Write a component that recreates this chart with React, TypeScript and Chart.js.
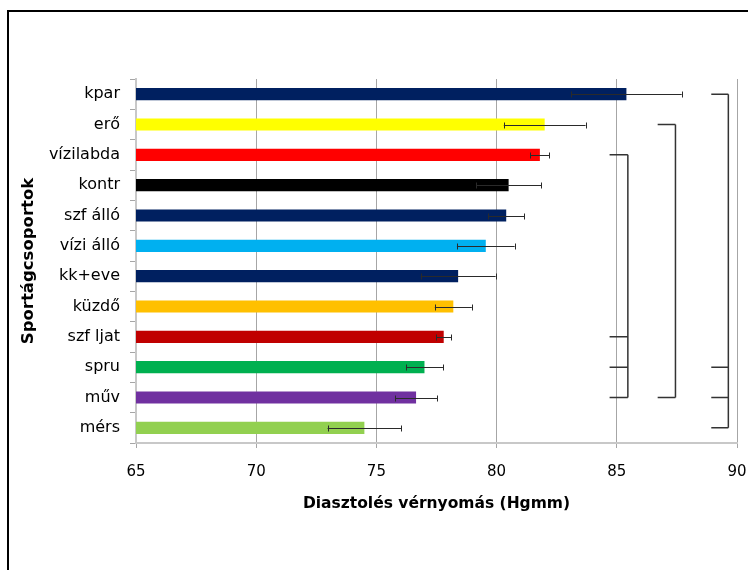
import React, { useEffect, useRef } from "react";
import { Chart, registerables } from "chart.js";

Chart.register(...registerables);

const categories = ["kpar", "erő", "vízilabda", "kontr", "szf álló", "vízi álló", "kk+eve", "küzdő", "szf ljat", "spru", "műv", "mérs"];
const values = [85.4, 82.0, 81.8, 80.5, 80.4, 79.55, 78.4, 78.2, 77.8, 77.0, 76.65, 74.5];
const errors = [2.3, 1.7, 0.4, 1.35, 0.76, 1.2, 1.56, 0.77, 0.32, 0.77, 0.87, 1.53];
const barColors = ["#002060", "#FFFF00", "#FF0000", "#000000", "#002060", "#00B0F0", "#002060", "#FFC000", "#C00000", "#00B050", "#7030A0", "#92D050"];
const xTicks = [65, 70, 75, 80, 85, 90];

// significance brackets: member category indices, stub start value, vertical line value
const bracketMembers = [[2, 8, 9, 10], [1, 10], [0, 9, 10, 11]];
const bracketStubFrom = [84.7, 86.7, 88.93];
const bracketLineAt = [85.46, 87.44, 89.64];

const FONT = '"DejaVu Sans", Arial, sans-serif';

const overlayPlugin = {
  id: "overlay",
  afterDatasetsDraw(chart: any) {
    const ctx = chart.ctx;
    const xs = chart.scales.x;
    const ys = chart.scales.y;
    ctx.save();
    // error bars
    ctx.strokeStyle = "#2a2a2a";
    ctx.lineWidth = 1;
    values.forEach((v, i) => {
      const y = Math.round(ys.getPixelForValue(i)) + 0.5;
      const x1 = xs.getPixelForValue(v - errors[i]);
      const x2 = xs.getPixelForValue(v + errors[i]);
      ctx.beginPath();
      ctx.moveTo(x1, y);
      ctx.lineTo(x2, y);
      ctx.moveTo(Math.round(x1) + 0.5, y - 3);
      ctx.lineTo(Math.round(x1) + 0.5, y + 3);
      ctx.moveTo(Math.round(x2) + 0.5, y - 3);
      ctx.lineTo(Math.round(x2) + 0.5, y + 3);
      ctx.stroke();
    });
    // brackets
    ctx.strokeStyle = "#333333";
    ctx.lineWidth = 1.5;
    bracketMembers.forEach((members, b) => {
      const xa = xs.getPixelForValue(bracketStubFrom[b]);
      const xb = xs.getPixelForValue(bracketLineAt[b]);
      const yTop = ys.getPixelForValue(members[0]);
      const yBot = ys.getPixelForValue(members[members.length - 1]);
      ctx.beginPath();
      ctx.moveTo(xb, yTop);
      ctx.lineTo(xb, yBot);
      members.forEach((m) => {
        const y = ys.getPixelForValue(m);
        ctx.moveTo(xa, y);
        ctx.lineTo(xb, y);
      });
      ctx.stroke();
    });
    ctx.restore();
  },
  afterDraw(chart: any) {
    const ctx = chart.ctx;
    ctx.save();
    ctx.strokeStyle = "#000000";
    ctx.lineWidth = 2;
    ctx.beginPath();
    ctx.moveTo(8, 580);
    ctx.lineTo(8, 11);
    ctx.lineTo(760, 11);
    ctx.stroke();
    ctx.restore();
  },
};

export default function App() {
  const ref = useRef<HTMLCanvasElement>(null);
  useEffect(() => {
    document.body.style.margin = "0";
    const chart = new Chart(ref.current as HTMLCanvasElement, {
      type: "bar",
      data: {
        labels: categories,
        datasets: [
          {
            data: values,
            backgroundColor: barColors,
            borderWidth: 0,
            barPercentage: 0.4,
            categoryPercentage: 1,
          },
        ],
      },
      options: {
        indexAxis: "y",
        animation: false,
        responsive: false,
        layout: { padding: { top: 79, right: 11, left: 8, bottom: 40 } },
        plugins: { legend: { display: false }, tooltip: { enabled: false } },
        scales: {
          x: {
            min: 65,
            max: 90,
            afterBuildTicks: (s: any) => {
              s.ticks = xTicks.map((v) => ({ value: v }));
            },
            afterFit: (s: any) => {
              s.height = 87;
              s.paddingLeft = 0;
              s.paddingRight = 0;
            },
            grid: { color: "#a6a6a6", lineWidth: 1, tickLength: 5, drawTicks: true },
            border: { color: "#c8c8c8", width: 2 },
            ticks: { color: "#000000", font: { family: FONT, size: 15 }, padding: 15, maxRotation: 0 },
            title: {
              display: true,
              text: "Diasztolés vérnyomás (Hgmm)",
              color: "#000000",
              font: { family: FONT, size: 15.5, weight: "bold" },
              padding: { top: 0, bottom: 17 },
            },
          },
          y: {
            afterFit: (s: any) => {
              s.width = 128;
              s.paddingTop = 0;
              s.paddingBottom = 0;
            },
            grid: { offset: true, drawOnChartArea: false, tickLength: 6, color: "#a6a6a6" },
            border: { color: "#c8c8c8", width: 2 },
            ticks: { color: "#000000", font: { family: FONT, size: 16 }, padding: 10 },
            title: {
              display: true,
              text: "Sportágcsoportok",
              color: "#000000",
              font: { family: FONT, size: 16.5, weight: "bold" },
              padding: { top: 11, bottom: 0 },
            },
          },
        },
      },
      plugins: [overlayPlugin],
    });
    return () => chart.destroy();
  }, []);
  return (
    <div style={{ width: 748, height: 570 }}>
      <canvas ref={ref} width={748} height={570} />
    </div>
  );
}
